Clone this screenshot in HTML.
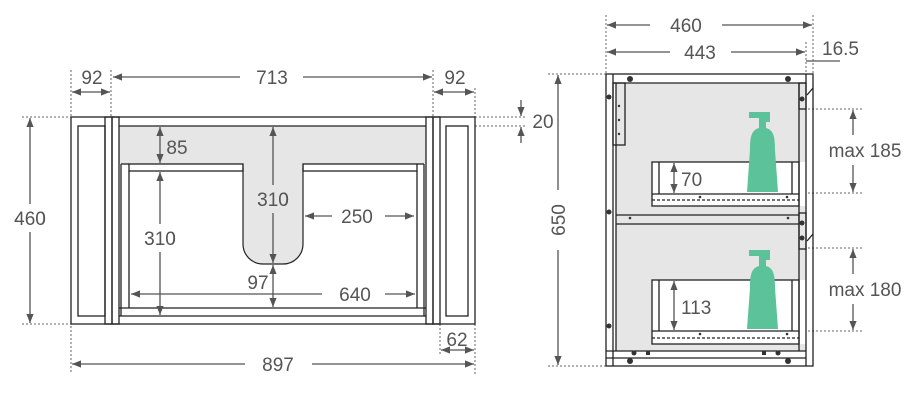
<!DOCTYPE html>
<html><head><meta charset="utf-8"><style>
html,body{margin:0;padding:0;background:#fff;width:923px;height:417px;overflow:hidden}
svg{display:block}
text{font-family:"Liberation Sans",sans-serif;fill:#555;font-size:19px}
</style></head><body>
<svg width="923" height="417" viewBox="0 0 923 417" xmlns="http://www.w3.org/2000/svg">
<defs>
<marker id="a" viewBox="0 0 10 10" refX="10" refY="5" markerWidth="7" markerHeight="7" orient="auto-start-reverse"><path d="M0,1 L10,5 L0,9 z" fill="#555"/></marker>
</defs>
<g stroke="#666" stroke-width="1" stroke-dasharray="2,2" fill="none">
<!-- left diagram dotted -->
<line x1="71" y1="70" x2="71" y2="372"/>
<line x1="111" y1="70" x2="111" y2="117"/>
<line x1="433" y1="70" x2="433" y2="117"/>
<line x1="475" y1="88" x2="475" y2="376"/>
<line x1="440" y1="324" x2="440" y2="356"/>
<line x1="22" y1="117" x2="71" y2="117"/>
<line x1="22" y1="324" x2="71" y2="324"/>
<line x1="475" y1="117" x2="525" y2="117"/>
<line x1="475" y1="126" x2="525" y2="126"/>
<!-- right diagram dotted -->
<line x1="606" y1="15" x2="606" y2="74"/>
<line x1="813" y1="15" x2="813" y2="74"/>
<line x1="806" y1="42" x2="806" y2="74"/>
<line x1="548" y1="74" x2="606" y2="74"/>
<line x1="548" y1="366" x2="606" y2="366"/>
<line x1="740" y1="109" x2="862" y2="109"/>
<line x1="740" y1="193" x2="862" y2="193"/>
<line x1="740" y1="248" x2="862" y2="248"/>
<line x1="740" y1="331" x2="862" y2="331"/>
</g>

<!-- LEFT DIAGRAM -->
<rect x="119" y="126" width="307" height="38" fill="#e6e6e6"/>
<path d="M243,164 H303 V244 A20,20 0 0 1 283,264 H263 A20,20 0 0 1 243,244 Z" fill="#e6e6e6" stroke="#222" stroke-width="1.2"/>
<rect x="243" y="160" width="60" height="8" fill="#e6e6e6"/>
<g fill="none" stroke="#222" stroke-width="1.3">
<rect x="71" y="117" width="404" height="207"/>
<rect x="78" y="126" width="27" height="190"/>
<rect x="105" y="117" width="7" height="207"/>
<rect x="112" y="117" width="7" height="207"/>
<rect x="426" y="117" width="7" height="207"/>
<rect x="433" y="117" width="7" height="207"/>
<rect x="446" y="126" width="22" height="190"/>
<line x1="119" y1="126" x2="426" y2="126"/>
<rect x="129" y="164" width="114" height="7"/>
<rect x="303" y="164" width="114" height="7"/>
<line x1="121" y1="164" x2="121" y2="316"/>
<line x1="129" y1="171" x2="129" y2="308"/>
<line x1="121" y1="164" x2="129" y2="164"/>
<line x1="417" y1="171" x2="417" y2="308"/>
<line x1="424" y1="164" x2="424" y2="316"/>
<line x1="417" y1="164" x2="424" y2="164"/>
<line x1="119" y1="308" x2="426" y2="308"/>
<line x1="119" y1="316" x2="426" y2="316"/>
</g>
<g stroke="#555" stroke-width="1.3" fill="none" marker-start="url(#a)" marker-end="url(#a)">
<line x1="72" y1="92" x2="110" y2="92"/>
<line x1="434" y1="92" x2="474" y2="92"/>
<line x1="30" y1="118" x2="30" y2="323"/>
<line x1="160" y1="127" x2="160" y2="163"/>
<line x1="160" y1="172" x2="160" y2="315"/>
<line x1="273" y1="127" x2="273" y2="263"/>
<line x1="273" y1="265" x2="273" y2="307"/>
<line x1="441" y1="350" x2="474" y2="350"/>
</g>
<g stroke="#555" stroke-width="1.3" fill="none">
<line x1="113" y1="77" x2="240" y2="77" marker-start="url(#a)"/>
<line x1="303" y1="77" x2="432" y2="77" marker-end="url(#a)"/>
<line x1="72" y1="364" x2="245" y2="364" marker-start="url(#a)"/>
<line x1="312" y1="364" x2="474" y2="364" marker-end="url(#a)"/>
<line x1="305" y1="216" x2="332" y2="216" marker-start="url(#a)"/>
<line x1="385" y1="216" x2="414" y2="216" marker-end="url(#a)"/>
<line x1="131" y1="294" x2="322" y2="294" marker-start="url(#a)"/>
<line x1="385" y1="294" x2="415" y2="294" marker-end="url(#a)"/>
<line x1="521" y1="100" x2="521" y2="116" marker-end="url(#a)"/>
<line x1="521" y1="143" x2="521" y2="127" marker-end="url(#a)"/>
</g>
<g text-anchor="middle">
<text x="92" y="84">92</text>
<text x="272" y="84">713</text>
<text x="455" y="84">92</text>
<text x="543" y="128">20</text>
<text x="30" y="225" style="fill:#555" fill="#fff">460</text>
<text x="177" y="154">85</text>
<text x="160" y="245">310</text>
<text x="273" y="206">310</text>
<text x="357" y="223">250</text>
<text x="258" y="289">97</text>
<text x="355" y="301">640</text>
<text x="278" y="371">897</text>
<text x="457" y="346">62</text>
</g>
<rect x="18" y="204" width="24" height="28" fill="#fff"/>
<text x="30" y="225" text-anchor="middle">460</text>
<rect x="150" y="224" width="22" height="28" fill="#fff"/>
<text x="160" y="245" text-anchor="middle">310</text>
<rect x="262" y="185" width="22" height="28" fill="#e6e6e6"/>
<text x="273" y="206" text-anchor="middle">310</text>

<!-- RIGHT DIAGRAM -->
<rect x="616" y="83" width="190" height="268" fill="#e6e6e6"/>
<rect x="652" y="162" width="154" height="44" fill="#fff"/>
<rect x="652" y="280" width="154" height="64" fill="#fff"/>
<g fill="none" stroke="#222" stroke-width="1.3">
<rect x="606" y="74" width="207" height="292"/>
<line x1="613" y1="74" x2="613" y2="366"/>
<line x1="616" y1="83" x2="616" y2="351"/>
<line x1="613" y1="83" x2="806" y2="83"/>
<line x1="606" y1="351" x2="806" y2="351"/>
<line x1="606" y1="358" x2="806" y2="358"/>
<line x1="806" y1="74" x2="806" y2="366"/>
<line x1="799" y1="83" x2="799" y2="351"/>
<rect x="613" y="83" width="12" height="62"/>
<rect x="799" y="83" width="7" height="26"/>
<rect x="799" y="213" width="7" height="36"/>
<line x1="616" y1="215" x2="799" y2="215"/>
<line x1="616" y1="224" x2="799" y2="224"/>
<rect x="652" y="162" width="147" height="44"/>
<line x1="659" y1="162" x2="659" y2="194"/>
<line x1="792" y1="162" x2="792" y2="194"/>
<line x1="652" y1="194" x2="799" y2="194"/>
<line x1="652" y1="200" x2="799" y2="200" stroke-dasharray="3,2"/>
<rect x="652" y="280" width="147" height="64"/>
<line x1="659" y1="280" x2="659" y2="331"/>
<line x1="792" y1="280" x2="792" y2="331"/>
<line x1="652" y1="331" x2="799" y2="331"/>
<line x1="652" y1="338" x2="799" y2="338" stroke-dasharray="3,2"/>
<line x1="807" y1="95" x2="813" y2="88"/>
<line x1="807" y1="241" x2="813" y2="234"/>
</g>
<g fill="#333">
<circle cx="630" cy="79" r="3"/><circle cx="788" cy="79" r="3"/>
<circle cx="630" cy="361" r="3"/><circle cx="788" cy="361" r="3"/>
<circle cx="609" cy="97" r="2.5"/><circle cx="609" cy="212" r="2.5"/><circle cx="609" cy="326" r="2.5"/>
<circle cx="802" cy="99" r="2.5"/><circle cx="802" cy="223" r="2.5"/><circle cx="802" cy="238" r="2.5"/>
<circle cx="634" cy="353" r="2.5"/><circle cx="778" cy="353" r="2.5"/>
<rect x="646" y="351" width="4" height="4"/><rect x="762" y="351" width="4" height="4"/>
<circle cx="630" cy="218" r="1.3"/><circle cx="788" cy="218" r="1.3"/>
<circle cx="700" cy="197" r="1.3"/><circle cx="787" cy="197" r="1.3"/>
<circle cx="700" cy="334" r="1.3"/><circle cx="787" cy="334" r="1.3"/>
<circle cx="619" cy="106" r="1.2"/><circle cx="619" cy="120" r="1.2"/><circle cx="619" cy="134" r="1.2"/>
</g>
<!-- bottles -->
<g fill="#5cc29a">
<path d="M749,112 H770 V122 H766 V128 C774,130 775,138 775,150 L778,192 H747 L750,150 C750,138 751,130 759,128 V118 H749 Z"/>
<path d="M749,250 H770 V260 H766 V266 C774,268 775,276 775,288 L778,329 H747 L750,288 C750,276 751,268 759,266 V256 H749 Z"/>
</g>
<g stroke="#555" stroke-width="1.3" fill="none">
<line x1="607" y1="25" x2="650" y2="25" marker-start="url(#a)"/>
<line x1="722" y1="25" x2="812" y2="25" marker-end="url(#a)"/>
<line x1="607" y1="52" x2="670" y2="52" marker-start="url(#a)"/>
<line x1="731" y1="52" x2="805" y2="52" marker-end="url(#a)"/>
<line x1="806" y1="61" x2="840" y2="61"/>
<line x1="558" y1="75" x2="558" y2="190" marker-start="url(#a)"/>
<line x1="558" y1="250" x2="558" y2="365" marker-end="url(#a)"/>
<line x1="853" y1="110" x2="853" y2="135" marker-start="url(#a)"/>
<line x1="853" y1="165" x2="853" y2="192" marker-end="url(#a)"/>
<line x1="853" y1="249" x2="853" y2="274" marker-start="url(#a)"/>
<line x1="853" y1="304" x2="853" y2="330" marker-end="url(#a)"/>
<line x1="674" y1="163" x2="674" y2="193" marker-start="url(#a)" marker-end="url(#a)"/>
<line x1="674" y1="281" x2="674" y2="330" marker-start="url(#a)" marker-end="url(#a)"/>
</g>
<text x="686" y="32" text-anchor="middle">460</text>
<text x="700" y="59" text-anchor="middle">443</text>
<text x="822" y="55">16.5</text>
<text x="565" y="220" text-anchor="middle" transform="rotate(-90 565 220)">650</text>
<text x="865" y="157" text-anchor="middle">max 185</text>
<text x="865" y="296" text-anchor="middle">max 180</text>
<text x="681" y="186">70</text>
<text x="681" y="314">113</text>
</svg>
</body></html>
